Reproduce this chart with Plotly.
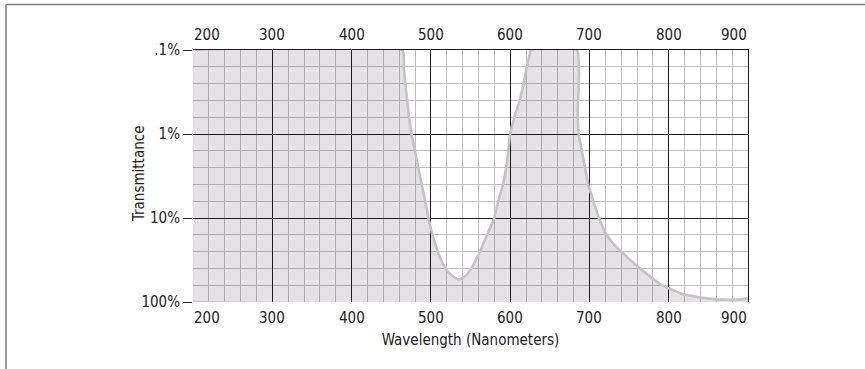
import numpy as np
import plotly.graph_objects as go

# ---- data ----
wavelength_nm = [200, 464, 466, 469, 472, 475.6, 480.5, 484.7, 489, 493,
                 497, 502, 508, 512.5, 517, 522, 527, 531, 535,
                 540, 545, 549, 552, 556, 562, 566, 571, 580, 585,
                 591, 595, 597.6, 600, 606, 612, 617, 621, 624, 626.5,
                 684, 685.2, 686.5, 691, 695, 699, 702, 706, 712, 716,
                 720, 725, 730, 735, 740, 752, 764, 777, 791, 805,
                 815, 830, 840, 860, 880, 892, 900]
transmittance_pct = [0.1, 0.1, 0.17, 0.32, 0.58, 1.0, 1.7, 2.7, 4.2, 6.5,
                     10, 15.8, 24, 31, 38, 44, 49, 52, 54,
                     52, 47.9, 42.7, 38.5, 32.4, 25, 20.4, 15.8, 10, 6.3,
                     4.0, 2.5, 1.6, 1.0, 0.6, 0.4, 0.25, 0.16, 0.12, 0.1,
                     0.1, 0.55, 1.0, 1.7, 2.7, 4.2, 5.1, 6.8, 10, 12.3,
                     15.0, 17.6, 20.2, 22.6, 25, 32, 40, 50, 63, 72,
                     79, 85, 88.5, 93, 94, 93, 90]

x_tick_vals = [200, 300, 400, 500, 600, 700, 800, 900]
x_tick_text = ["200", "300", "400", "500", "600", "700", "800", "900"]
y_tick_vals = [0.1, 1, 10, 100]
y_tick_text = [".1%", "1%", "10%", "100%"]
x_title = "Wavelength (Nanometers)"
y_title = "Transmittance"

# ---- styling ----
FONT = "DejaVu Sans Condensed, Liberation Sans Narrow, Arial Narrow, sans-serif"
FS = 15
TXT = "#222222"
L, R, T, B = 193, 117, 50, 67
W, H = 865, 369
PW, PH = W - L - R, H - T - B

floor = y_tick_vals[-1]
poly_x = list(wavelength_nm) + [wavelength_nm[-1], wavelength_nm[0]]
poly_y = list(transmittance_pct) + [floor, floor]

minor_y = [10 ** (np.log10(v) + j * 0.2) for v in y_tick_vals[:-1] for j in range(1, 5)]

fig = go.Figure()
fig.add_trace(go.Scatter(
    x=poly_x, y=poly_y, mode="lines", fill="toself",
    fillcolor="rgba(50,30,55,0.13)",
    line=dict(color="#c4c4c4", width=2.6, shape="spline", smoothing=0.5),
    hoverinfo="skip", showlegend=False,
))
# invisible helper traces so the top / right axes exist
fig.add_trace(go.Scatter(
    x=[wavelength_nm[0], wavelength_nm[-1]], y=[floor, floor], xaxis="x2",
    mode="lines", line=dict(width=0, color="rgba(0,0,0,0)"),
    hoverinfo="skip", showlegend=False,
))
fig.add_trace(go.Scatter(
    x=[wavelength_nm[0], wavelength_nm[-1]], y=[floor, floor], yaxis="y2",
    mode="lines", line=dict(width=0, color="rgba(0,0,0,0)"),
    hoverinfo="skip", showlegend=False,
))

xr = [x_tick_vals[0], x_tick_vals[-1]]
yr = [np.log10(y_tick_vals[-1]), np.log10(y_tick_vals[0])]

common_x = dict(
    range=xr, tickmode="array", tickvals=x_tick_vals, ticktext=x_tick_text,
    showticklabels=False, ticks="", showgrid=True, gridcolor="#1a1a1a", gridwidth=1,
    zeroline=False, automargin=False,
    minor=dict(dtick=20, tick0=200, showgrid=True, gridcolor="#c0c0c0", gridwidth=1, ticks=""),
)

fig.update_layout(
    width=W, height=H,
    margin=dict(l=L, r=R, t=T, b=B, autoexpand=False),
    paper_bgcolor="white", plot_bgcolor="white",
    font=dict(family=FONT, size=FS, color=TXT),
    xaxis=dict(**common_x, side="bottom", showline=False,
               title=dict(text=x_title, font=dict(family=FONT, size=FS, color=TXT), standoff=32)),
    xaxis2=dict(**common_x, side="top", overlaying="x", anchor="y", showline=True,
                linecolor="#1a1a1a", linewidth=1),
    yaxis=dict(
        type="log", range=yr, tickmode="array", tickvals=y_tick_vals, ticktext=y_tick_text,
        ticks="outside", ticklen=9, tickcolor=TXT, tickwidth=1,
        showgrid=True, gridcolor="#1a1a1a", gridwidth=1, zeroline=False, showline=False,
        automargin=False, tickfont=dict(family=FONT, size=FS, color=TXT),
        minor=dict(tickvals=minor_y, showgrid=True, gridcolor="#c0c0c0", gridwidth=1, ticks=""),
    ),
    yaxis2=dict(
        type="log", range=yr, overlaying="y", side="right", anchor="x",
        showticklabels=False, ticks="", showgrid=False, zeroline=False, automargin=False,
        showline=True, linecolor="#1a1a1a", linewidth=1,
    ),
)

# x tick labels at top and bottom (edge labels aligned inward, as in the reference)
for i, (v, t) in enumerate(zip(x_tick_vals, x_tick_text)):
    anchor = "left" if i == 0 else ("right" if i == len(x_tick_vals) - 1 else "center")
    for ypos, yanc, ysh in ((1, "bottom", 5), (0, "top", -6)):
        fig.add_annotation(x=v, y=ypos, xref="x", yref="paper", text=t,
                           xanchor=anchor, yanchor=yanc, yshift=ysh, showarrow=False,
                           font=dict(family=FONT, size=FS, color=TXT), borderpad=0)

# y axis title
fig.add_annotation(x=(139 - L) / PW, y=(T + PH - 174) / PH, xref="paper", yref="paper",
                   text=y_title, textangle=-90, showarrow=False,
                   xanchor="center", yanchor="middle",
                   font=dict(family=FONT, size=FS, color=TXT))

# outer frame (top and left edges)
top_y = (T + PH - 4.5) / PH
left_x = (6 - L) / PW
fig.add_shape(type="line", xref="paper", yref="paper",
              x0=left_x, x1=(W - L) / PW, y0=top_y, y1=top_y,
              line=dict(color="#7a7a7a", width=1.5))
fig.add_shape(type="line", xref="paper", yref="paper",
              x0=left_x, x1=left_x, y0=top_y, y1=(T + PH - H) / PH,
              line=dict(color="#7a7a7a", width=1.5))

fig.write_html(
    "out.html",
    config={"displayModeBar": False, "staticPlot": True},
    post_script=("document.documentElement.style.margin='0px';"
                 "document.body.style.margin='0px';document.body.style.padding='0px';"
                 "document.body.style.overflow='hidden';window.scrollTo(0,0);"),
)
